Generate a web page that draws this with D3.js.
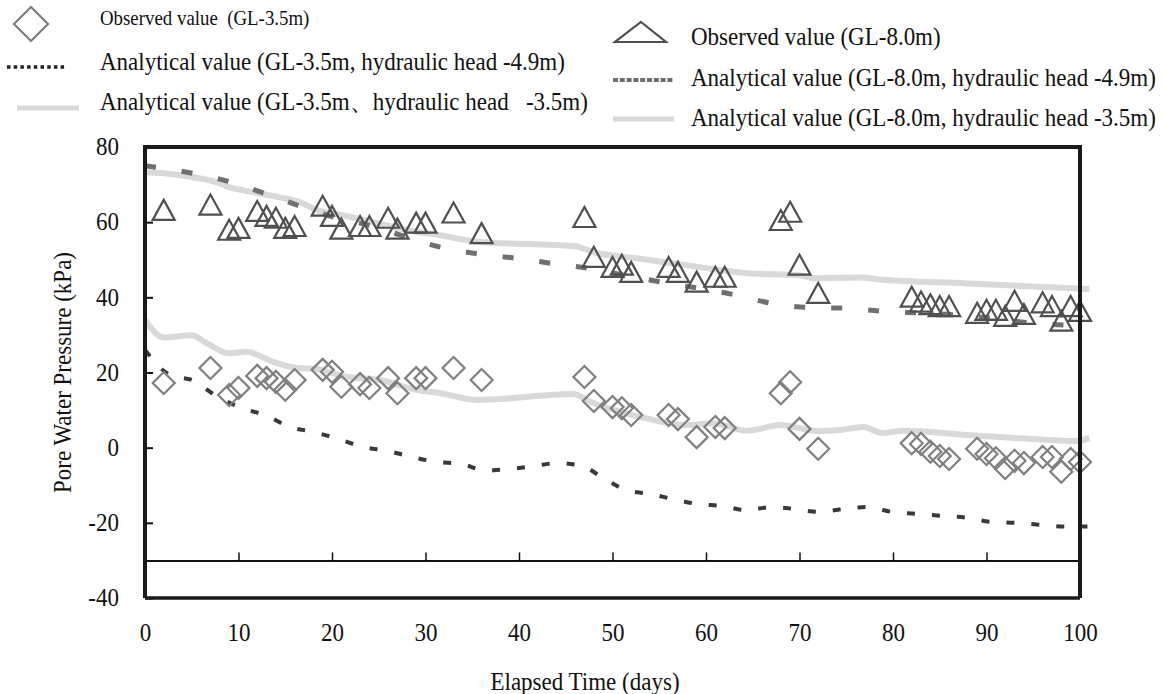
<!DOCTYPE html>
<html>
<head>
<meta charset="utf-8">
<script src="https://cdn.jsdelivr.net/npm/d3@7"></script>
<style>
  body { margin: 0; background: #fff; }
  text { font-family: "Liberation Serif", "Times New Roman", serif; fill: #111; white-space: pre; }
</style>
</head>
<body>
<div id="chart"></div>
<script>
// observation days (same for both depths)
var obsDays = [2,7,9,10,12,13,14,15,16,19,20,21,23,24,26,27,29,30,33,36,47,48,50,51,52,56,57,59,61,62,68,69,70,72,82,83,84,85,86,89,90,91,92,93,94,96,97,98,99,100];
var obs35 = [17.2,21.2,14,15.9,19.1,18.5,17.5,15.4,18,20.7,20.2,16.2,16.9,15.9,18.5,14.5,18.5,18.5,21.2,18,18.8,12.4,10.8,10.5,8.7,8.7,7.6,2.8,5.5,5.2,14.5,17.4,5,-0.3,1.2,1,-1.1,-2.2,-3,-0.3,-1.7,-2.8,-5.4,-3.5,-4.1,-2.5,-2.5,-6.4,-3,-3.8];
var obs80 = [62.4,63.8,57.1,57.6,62.1,60.8,60.3,57.6,58.1,63.5,60.8,57.4,58.1,58.1,60.3,57.4,59,59,61.7,56.2,60.5,49.9,47.2,47.8,45.9,47.2,45.9,43.3,44.6,44.6,59.7,61.9,47.8,40.3,39.3,38,37.3,36.8,36.8,35,35.8,35.8,34.2,38.2,34.7,37.8,36.8,32.9,36.8,35.5];

// analytical GL-3.5m, head -4.9m
var a35hDays = [0,2.7,5.2,7.6,10.3,13,15.5,18,20.7,23.3,26,28.6,31.2,33.8,36.4,38.9,41.6,44.1,46.8,49,51.5,54,56.5,59.1,61.7,64.3,67,69.4,72.1,74.7,77.3,79.9,82.4,85.1,87.8,90.3,93,95.6,98.2,100.8];
var a35hVals = [26,19.3,17.8,13.8,10.6,8.5,5.5,4.2,2.3,0.2,-0.9,-2.5,-3.8,-4.3,-6.1,-5.7,-4.9,-4.1,-4.9,-8.1,-11.3,-12.3,-13.7,-15,-15.5,-16.6,-15.8,-16.3,-17.1,-16.3,-15.8,-17.1,-17.6,-18.1,-18.6,-19.7,-20,-20.5,-21,-21];
// analytical GL-3.5m, head -3.5m
var a35lDays = [0,2,5,6.6,9,10.9,13.7,16.2,18.4,21.6,25.1,29,31.6,35.5,45.8,47.6,52.9,58,60.7,64.4,68,70,72,74.3,76.8,78.9,81,87.9,95,99.7,101];
var a35lVals = [34,29.3,29.9,27.8,25.1,25.5,22.8,21.2,20.9,18.8,18,15.4,14.5,12.7,14.3,12.2,8.2,6,6.5,4.5,6,5.2,4.4,4.7,5.5,3.9,4.5,3.4,2.3,1.8,2.6];
// analytical GL-8.0m, head -4.9m
var a80hDays = [0,4.5,8.4,12.4,16.3,20,25,28,31.7,35.8,39.7,43.6,47.5,51,55.4,59,63.2,67,70.9,75,79,83,86.8,91,95,100.5];
var a80hVals = [75,73.3,71.2,68,64.5,61.5,58.5,56,53.3,51.5,50.4,49,47.7,46,44,42.5,40.6,38.4,37.3,37.1,36.3,35.8,35.3,34.3,33.1,32.5];
// analytical GL-8.0m, head -3.5m
var a80lDays = [0,2,5,7.7,9,11.5,14.4,16.6,18.4,21,24.4,28,31.6,35.6,46,48,52.6,58.6,64.4,70,71.5,76.8,78.3,88,99.3,101];
var a80lVals = [73.3,73,72,70.6,69.3,68,66.6,65.3,63.2,61.9,60,57.9,56.5,54.8,53.6,52,50.4,48.3,46.4,45.9,45.1,45.3,44.8,43.7,42.4,42.2];

var xTicks = [0,10,20,30,40,50,60,70,80,90,100];
var yTicks = [-40,-20,0,20,40,60,80];

var legendLeft = ["Observed value  (GL-3.5m)",
                  "Analytical value (GL-3.5m, hydraulic head -4.9m)",
                  "Analytical value (GL-3.5m\u3001hydraulic head   -3.5m)"];
var legendRight = ["Observed value (GL-8.0m)",
                   "Analytical value (GL-8.0m, hydraulic head -4.9m)",
                   "Analytical value (GL-8.0m, hydraulic head -3.5m)"];

var W = 1168, H = 694;
var plot = {left: 145, right: 1080, top: 147, bottom: 598};
var SX = 0.92; // horizontal squeeze for the narrow serif look

var svg = d3.select("#chart").append("svg")
	.attr("width", W)
	.attr("height", H);

var x = d3.scaleLinear().domain([0, 100]).range([plot.left, plot.right]);
var y = d3.scaleLinear().domain([-40, 80]).range([plot.bottom, plot.top]);

// plain hyphen for negatives, like the original
var fmt = function(d) { return String(d); };

function pts(days, vals) {
	return days.map(function(d, i) { return [d, vals[i]]; });
}
var line = d3.line()
	.x(function(d) { return x(d[0]); })
	.y(function(d) { return y(d[1]); })
	.curve(d3.curveMonotoneX);

// squeezed text helper
function label(g, tx, ty, str, size, anchor) {
	return g.append("text")
		.attr("transform", "translate(" + tx + "," + ty + ") scale(" + SX + ",1)")
		.attr("dy", "0.35em")
		.attr("text-anchor", anchor || "start")
		.style("font-size", size + "px")
		.text(str);
}

// analytical lines
svg.append("path").datum(pts(a80lDays, a80lVals))
	.attr("d", line).attr("fill", "none")
	.attr("stroke", "#d9d9d9").attr("stroke-width", 6);
svg.append("path").datum(pts(a35lDays, a35lVals))
	.attr("d", line).attr("fill", "none")
	.attr("stroke", "#d9d9d9").attr("stroke-width", 6);
svg.append("path").datum(pts(a80hDays, a80hVals))
	.attr("d", line).attr("fill", "none")
	.attr("stroke", "#707070").attr("stroke-width", 5)
	.attr("stroke-dasharray", "11,26");
svg.append("path").datum(pts(a35hDays, a35hVals))
	.attr("d", line).attr("fill", "none")
	.attr("stroke", "#3a3a3a").attr("stroke-width", 4)
	.attr("stroke-dasharray", "8,17");

// markers
var diamond = "M0,-11L11,0L0,11L-11,0Z";
var tri = "M0,-13.3L11,6.7L-11,6.7Z";

svg.append("g").selectAll("path")
	.data(pts(obsDays, obs80))
	.enter().append("path")
	.attr("d", tri)
	.attr("transform", function(d) { return "translate(" + x(d[0]) + "," + y(d[1]) + ")"; })
	.attr("fill", "none").attr("stroke", "#505050").attr("stroke-width", 2.2)
	.attr("stroke-linejoin", "miter");

svg.append("g").selectAll("path")
	.data(pts(obsDays, obs35))
	.enter().append("path")
	.attr("d", diamond)
	.attr("transform", function(d) { return "translate(" + x(d[0]) + "," + y(d[1]) + ")"; })
	.attr("fill", "none").attr("stroke", "#808080").attr("stroke-width", 2.2);

// y axis (ticks pointing inward)
var yAxis = svg.append("g")
	.attr("transform", "translate(" + plot.left + ",0)")
	.call(d3.axisLeft(y).tickValues(yTicks).tickSize(-8).tickFormat(fmt));
yAxis.select(".domain").remove();
yAxis.selectAll("line").attr("stroke", "#111").attr("stroke-width", 2);
yAxis.selectAll("text")
	.attr("x", null).attr("dy", "0.35em")
	.attr("transform", "translate(-26,-1) scale(" + SX + ",1)")
	.style("font-size", "25px").style("font-family", "Liberation Serif").attr("fill", "#111");

// x axis line at -30 with upward ticks
var xAxis = svg.append("g")
	.attr("transform", "translate(0," + y(-30) + ")")
	.call(d3.axisTop(x).tickValues(xTicks).tickSize(8).tickFormat(""));
xAxis.select(".domain").attr("stroke", "#111").attr("stroke-width", 2);
xAxis.selectAll("line").attr("stroke", "#111").attr("stroke-width", 1.5);

// x tick labels below frame
var xLab = svg.append("g")
	.attr("transform", "translate(0," + plot.bottom + ")")
	.call(d3.axisBottom(x).tickValues(xTicks).tickSize(0).tickFormat(fmt));
xLab.select(".domain").remove();
xLab.selectAll("text")
	.attr("y", null).attr("dy", "0.35em")
	.attr("transform", "translate(0,34) scale(" + SX + ",1)")
	.style("font-size", "25px").style("font-family", "Liberation Serif").attr("fill", "#111");

// frame
svg.append("path")
	.attr("d", "M" + plot.left + "," + plot.bottom + "V" + plot.top + "H" + plot.right + "V" + plot.bottom)
	.attr("fill", "none").attr("stroke", "#1a1a1a").attr("stroke-width", 4);
svg.append("line")
	.attr("x1", plot.left).attr("x2", plot.right)
	.attr("y1", plot.bottom).attr("y2", plot.bottom)
	.attr("stroke", "#1a1a1a").attr("stroke-width", 3.5);

// axis titles
label(svg, 585, 681, "Elapsed Time (days)", 25, "middle");
svg.append("text")
	.attr("transform", "translate(62," + (plot.top + plot.bottom) / 2 + ") rotate(-90) scale(" + SX + ",1)")
	.attr("dy", "0.35em")
	.attr("text-anchor", "middle")
	.style("font-size", "25px")
	.text("Pore Water Pressure (kPa)");

// legend, left block
var lg = svg.append("g");
lg.append("path").attr("d", "M0,-17L17,0L0,17L-17,0Z")
	.attr("transform", "translate(31,24)")
	.attr("fill", "none").attr("stroke", "#808080").attr("stroke-width", 2.2);
lg.append("line").attr("x1", 7).attr("x2", 67).attr("y1", 67).attr("y2", 67)
	.attr("stroke", "#222").attr("stroke-width", 3.5).attr("stroke-dasharray", "3.5,3.2");
lg.append("line").attr("x1", 17).attr("x2", 79).attr("y1", 108).attr("y2", 108)
	.attr("stroke", "#d9d9d9").attr("stroke-width", 5);
label(lg, 100, 18, legendLeft[0], 20.5);
label(lg, 100, 61, legendLeft[1], 25);
label(lg, 100, 101, legendLeft[2], 25);

// legend, right block
var rg = svg.append("g");
rg.append("path").attr("d", "M641,22L666,42H615Z")
	.attr("fill", "none").attr("stroke", "#505050").attr("stroke-width", 2.2);
rg.append("line").attr("x1", 613).attr("x2", 673).attr("y1", 80).attr("y2", 80)
	.attr("stroke", "#707070").attr("stroke-width", 4).attr("stroke-dasharray", "5,1.8");
rg.append("line").attr("x1", 613).attr("x2", 674).attr("y1", 119).attr("y2", 119)
	.attr("stroke", "#d9d9d9").attr("stroke-width", 5);
label(rg, 691, 36, legendRight[0], 25);
label(rg, 691, 77, legendRight[1], 25);
label(rg, 691, 117, legendRight[2], 25);
</script>
</body>
</html>
